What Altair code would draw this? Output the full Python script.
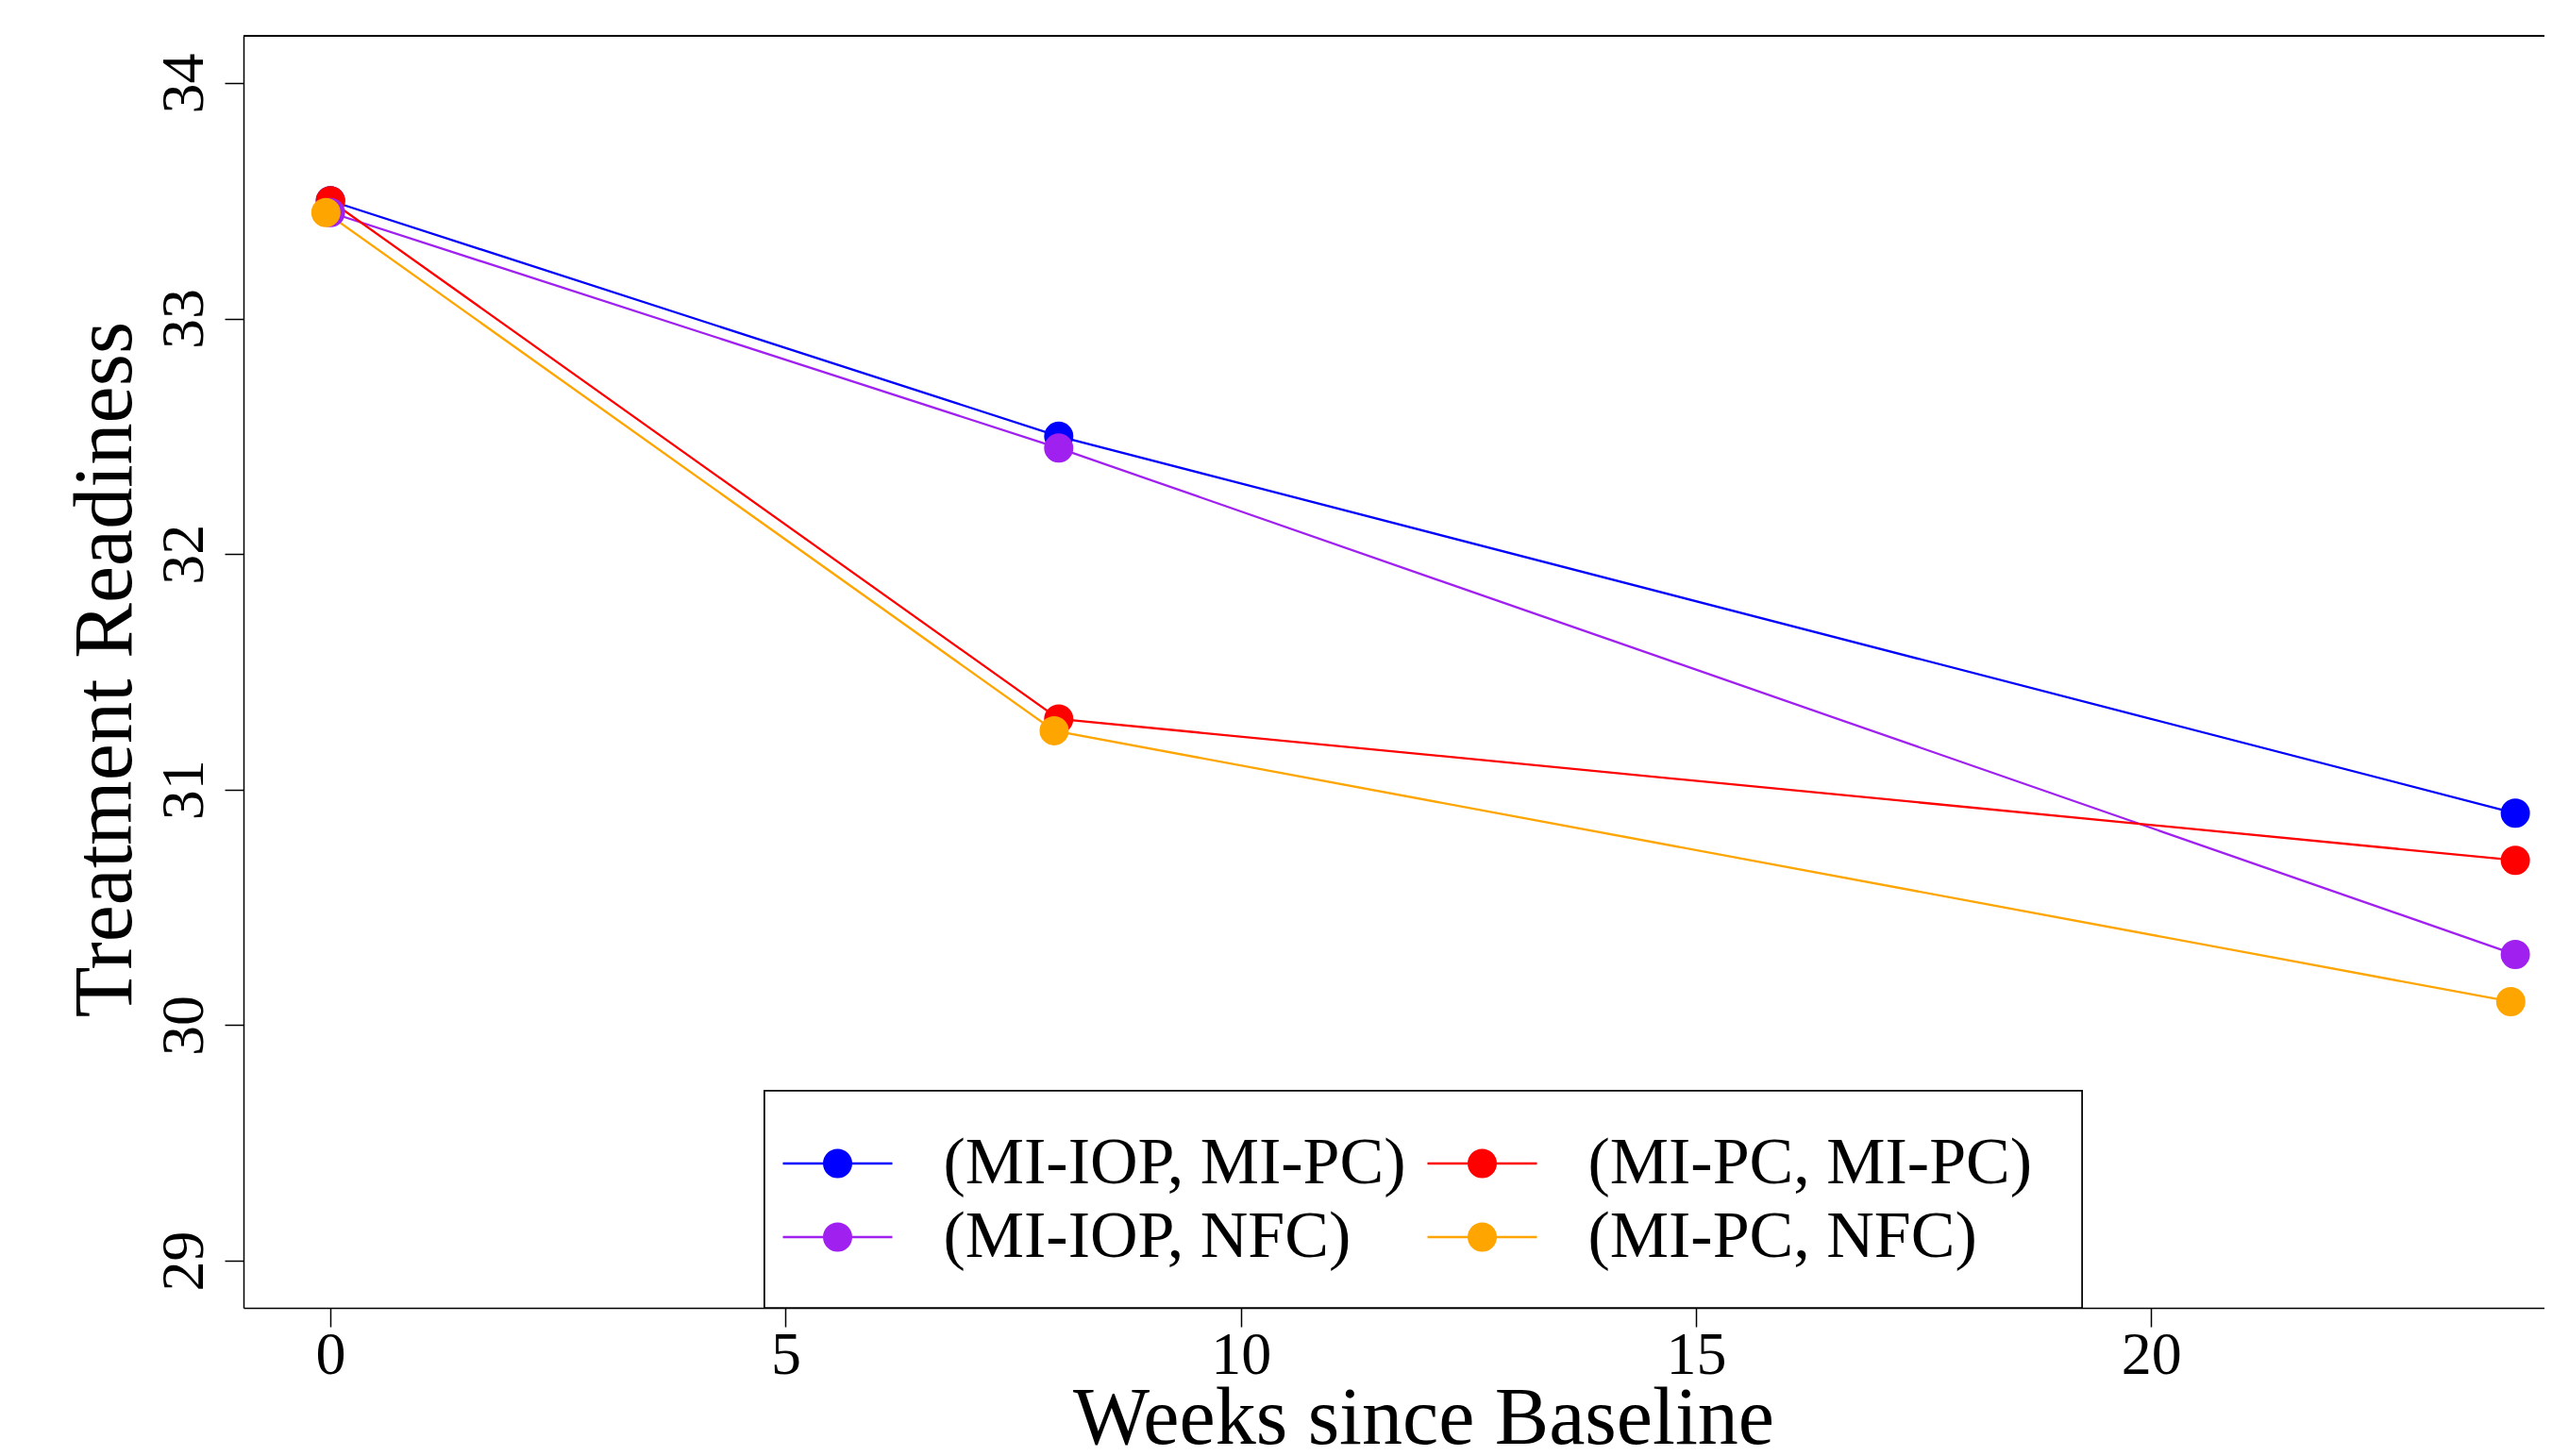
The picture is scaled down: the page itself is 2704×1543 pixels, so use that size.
import altair as alt
import pandas as pd

# ---- data ----
# legend entries fill column by column: (MI-IOP, *) in column 1, (MI-PC, *) in column 2
series_names = ["(MI-IOP, MI-PC)", "(MI-IOP, NFC)", "(MI-PC, MI-PC)", "(MI-PC, NFC)"]
series_colors = ["#0000FF", "#A020F0", "#FF0000", "#FFA500"]
draw_order = [0, 2, 1, 3]

weeks_mi_iop_mi_pc = [0, 8, 24]
readiness_mi_iop_mi_pc = [33.5, 32.5, 30.9]

weeks_mi_iop_nfc = [0, 8, 24]
readiness_mi_iop_nfc = [33.45, 32.45, 30.3]

weeks_mi_pc_mi_pc = [0, 8, 24]
readiness_mi_pc_mi_pc = [33.5, 31.3, 30.7]

weeks_mi_pc_nfc = [-0.05, 7.95, 23.95]
readiness_mi_pc_nfc = [33.45, 31.25, 30.1]

x_ticks = [0, 5, 10, 15, 20]
y_ticks = [29, 30, 31, 32, 33, 34]

all_weeks = [weeks_mi_iop_mi_pc, weeks_mi_iop_nfc, weeks_mi_pc_mi_pc, weeks_mi_pc_nfc]
all_readiness = [readiness_mi_iop_mi_pc, readiness_mi_iop_nfc, readiness_mi_pc_mi_pc, readiness_mi_pc_nfc]

rows = []
for name, wk, rd, od in zip(series_names, all_weeks, all_readiness, draw_order):
    for w, r in zip(wk, rd):
        rows.append({"series": name, "week": w, "readiness": r, "order": od})
df = pd.DataFrame(rows)

# ---- layout ----
W, H = 2438, 1348
FONT = "Liberation Serif"

x_scale = alt.Scale(domain=[-0.955, 24.32], nice=False, zero=False)
y_scale = alt.Scale(domain=[28.8, 34.2], nice=False, zero=False)

x_enc = alt.X(
    "week:Q",
    scale=x_scale,
    axis=alt.Axis(
        values=x_ticks,
        title="Weeks since Baseline",
        titleFontSize=86,
        titleX=1250,
        titleY=143,
        titleAlign="center",
        titleBaseline="alphabetic",
        labelBaseline="alphabetic",
        labelAlign="center",
        labelPadding=49,
        labelFlush=False,
        labelOverlap=False,
    ),
)
y_enc = alt.Y(
    "readiness:Q",
    scale=y_scale,
    axis=alt.Axis(
        values=y_ticks,
        title="Treatment Readiness",
        titleFontSize=88,
        titleAngle=270,
        titleX=-120,
        titleY=671,
        titleAlign="center",
        titleBaseline="alphabetic",
        labelAngle=270,
        labelAlign="center",
        labelBaseline="alphabetic",
        labelPadding=24,
        labelOverlap=False,
        labelFlush=False,
    ),
)

# unit = sqrt(3364)/2 = 29 px : line +-2 units (116 px), dot radius ~0.495 units
legend_symbol = "M-2,0L2,0M-0.495,0A0.495,0.495,0,1,1,0.495,0A0.495,0.495,0,1,1,-0.495,0Z"
legend = alt.Legend(
    title=None,
    orient="none",
    legendX=570,
    legendY=1160,
    columns=2,
    padding=0,
    symbolType=legend_symbol,
    symbolSize=3364,
    symbolStrokeWidth=2.3,
    symbolOffset=24.5,
    labelFont=FONT,
    labelFontSize=70,
    labelColor="black",
    labelOffset=77,
    labelLimit=2000,
    columnPadding=17,
    rowPadding=8,
)

color_scale = alt.Scale(domain=series_names, range=series_colors)

frame = alt.Chart(df).mark_rect(fill="white", stroke="black", strokeWidth=1.5).encode(
    x=alt.value(552), x2=alt.value(1948), y=alt.value(1118), y2=alt.value(1348)
)
top_border = alt.Chart(df).mark_rule(color="black", strokeWidth=1.5).encode(
    x=alt.value(0), x2=alt.value(W), y=alt.value(0)
)

lines = alt.Chart(df).mark_line(strokeWidth=2.3).encode(
    x=x_enc,
    y=y_enc,
    stroke=alt.Stroke("series:N", scale=color_scale, legend=legend),
    order="week:Q",
)
points = alt.Chart(df).mark_point(filled=True, size=824, strokeWidth=2.3, opacity=1).encode(
    x=x_enc,
    y=y_enc,
    fill=alt.Fill("series:N", scale=color_scale, legend=legend),
    stroke=alt.Stroke("series:N", scale=color_scale, legend=legend),
    order="order:Q",
)

chart = (
    alt.layer(frame, lines, points, top_border)
    .properties(
        width=W,
        height=H,
        autosize=alt.AutoSizeParams(type="none"),
        padding={"left": 250, "top": 30, "right": 0, "bottom": 148},
        background="white",
    )
    .configure_view(stroke=None)
    .configure_axis(
        domainColor="black",
        domainWidth=1.5,
        tickColor="black",
        tickWidth=1.5,
        tickSize=20,
        grid=False,
        labelFont=FONT,
        labelFontSize=64,
        labelColor="black",
        titleFont=FONT,
        titleFontWeight="normal",
        titleColor="black",
    )
)

chart.save("out.html", embed_options={"renderer": "svg", "actions": False})
